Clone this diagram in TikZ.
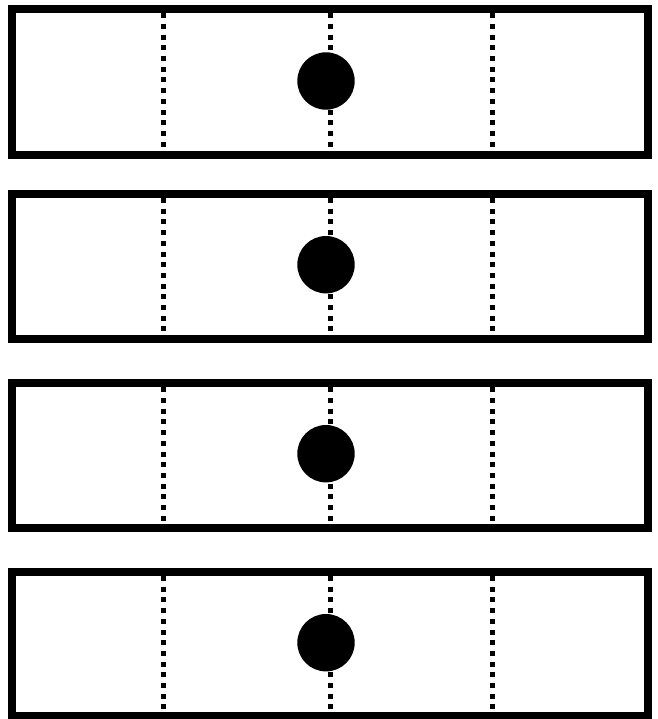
\documentclass[tikz,border=0pt]{standalone}
\usepackage{tikz}

\begin{document}
\begin{tikzpicture}[
    x=1pt, y=-1pt,
    frame/.style={draw, line width=8pt},
    divider/.style={draw, line width=5pt, dash pattern=on 5pt off 5.7pt},
    bead/.style={fill=black}
]
\useasboundingbox (0,0) rectangle (657,719);
\foreach \ytop/\ybot/\cy in {9.3/154.7/81, 194/339.3/264.7, 383.3/528/453.7, 572/716/642.7} {
  \draw[frame] (12,\ytop) rectangle (648,\ybot);
  \foreach \xx in {163,330,492.7}
    \draw[divider] (\xx,\ytop+4) -- (\xx,\ybot-4);
  \fill[bead] (326,\cy) circle (28.7pt);
}
\end{tikzpicture}
\end{document}
